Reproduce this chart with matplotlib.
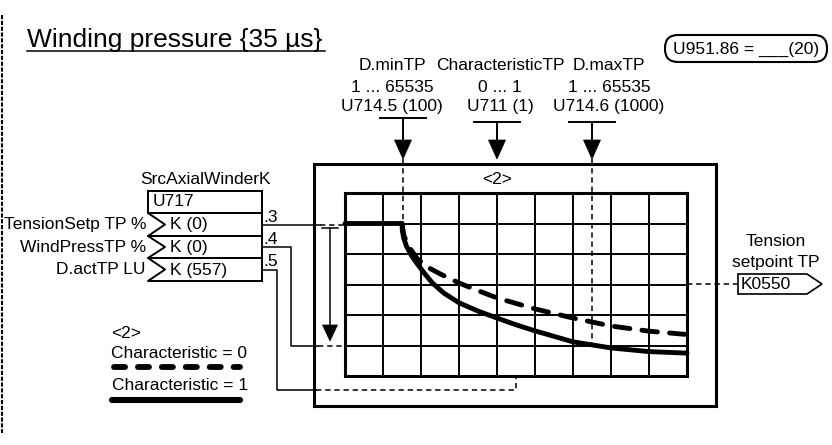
import matplotlib
matplotlib.use("Agg")
import matplotlib.pyplot as plt
from matplotlib.patches import Polygon, Rectangle, FancyBboxPatch

plt.rcParams['font.family'] = ['Liberation Sans', 'DejaVu Sans']

# curve data in grid units (9 x 6 cells)
char1_x = [0, 1.5, 1.51, 1.55, 1.62, 1.75, 1.9, 2.1, 2.3, 2.6, 3.0, 3.5, 4.0, 4.5, 5.0, 6.0, 7.0, 8.0, 9.0]
char1_y = [5.0, 5.0, 4.75, 4.5, 4.25, 3.95, 3.68, 3.35, 3.05, 2.72, 2.4, 2.13, 1.9, 1.68, 1.48, 1.12, 0.92, 0.8, 0.75]
char0_x = [1.5, 1.55, 1.7, 1.9, 2.2, 2.5, 3.0, 3.5, 4.0, 5.0, 6.0, 7.0, 8.0, 9.0]
char0_y = [5.0, 4.6, 4.2, 3.85, 3.55, 3.35, 3.05, 2.8, 2.56, 2.2, 1.9, 1.64, 1.47, 1.36]

# parameter labels above the block
param_names = ['D.minTP', 'CharacteristicTP', 'D.maxTP']
param_ranges = ['1 ... 65535', '0 ... 1', '1 ... 65535']
param_ids = ['U714.5 (100)', 'U711 (1)', 'U714.6 (1000)']
param_text_x = [392, 500, 609]
param_arrow_x = [403, 497, 592]

# connector inputs
in_labels = ['TensionSetp TP %', 'WindPressTP %', 'D.actTP LU']
in_values = ['K (0)', 'K (0)', 'K (557)']
in_pins = ['.3', '.4', '.5']

FS = 12.5
fig = plt.figure(figsize=(8.32, 4.45), dpi=100)
ax = fig.add_axes([0, 0, 1, 1])
ax.set_xlim(0, 832)
ax.set_ylim(445, 0)
ax.axis('off')

# left dashed border
ax.plot([2, 2], [15, 433], color='k', lw=1.5, ls=(0, (2, 0.8)))

# title
ax.text(27, 47, 'Winding pressure {35 µs}', fontsize=19, ha='left', va='baseline')
ax.plot([27, 325], [51, 51], color='k', lw=1.1)

# rounded box top right
ax.add_patch(FancyBboxPatch((665, 35), 162, 27, boxstyle='round,pad=0,rounding_size=13',
                            fc='white', ec='k', lw=1.5))
ax.text(746, 49, 'U951.86 = ___(20)', fontsize=FS, ha='center', va='center')

# parameter labels and arrows
for i in range(3):
    tx = param_text_x[i]
    ax.text(tx, 66, param_names[i], fontsize=FS, ha='center', va='center')
    ax.text(tx, 87, param_ranges[i], fontsize=FS, ha='center', va='center')
    ax.text(tx, 107, param_ids[i], fontsize=FS, ha='center', va='center')
    axx = param_arrow_x[i]
    by = 118 if i == 0 else 122
    ax.plot([axx - 23, axx + 23], [by, by], color='k', lw=1.4)
    ax.plot([axx, axx], [by, 142], color='k', lw=1.4)
    ax.add_patch(Polygon([(axx - 8.5, 140), (axx + 8.5, 140), (axx, 159)], closed=True, fc='k', ec='k', lw=0.5))

# outer box
ax.add_patch(Rectangle((314, 164), 402, 242, fill=False, ec='k', lw=2.2))
ax.text(497, 179, '<2>', fontsize=FS, ha='center', va='center')

# dashed drop lines from D.min and D.max
ax.plot([403, 403], [159, 224], color='k', lw=1.1, ls=(0, (3.5, 2.5)))
ax.plot([592, 592], [159, 343], color='k', lw=1.1, ls=(0, (3.5, 2.5)))

# connector block
ax.text(205, 180, 'SrcAxialWinderK', fontsize=FS, ha='center', va='center')
ax.add_patch(Rectangle((148, 191), 114, 22, fill=False, ec='k', lw=1.4))
ax.text(153, 202, 'U717', fontsize=FS, ha='left', va='center')
row_tops = [213, 236, 258]
row_bots = [236, 258, 281]
for i in range(3):
    t, b = row_tops[i], row_bots[i]
    m = (t + b) / 2
    ax.plot([262, 148, 165, 148, 262], [t, t, m, b, b], color='k', lw=1.4)
    ax.text(170, m + 0.5, in_values[i], fontsize=FS, ha='left', va='center')
    ax.text(146, m, in_labels[i], fontsize=FS, ha='right', va='center')
    ax.text(263, t + 4, in_pins[i], fontsize=FS, ha='left', va='center')
ax.plot([262, 262], [191, 281], color='k', lw=1.4)

# wires
ax.plot([262, 320], [225, 225], color='k', lw=1.1)
ax.plot([320, 345], [225, 225], color='k', lw=1.1, ls=(0, (3.5, 2.5)))
ax.plot([262, 291, 291, 318], [247, 247, 346, 346], color='k', lw=1.1)
ax.plot([318, 345], [346, 346], color='k', lw=1.1, ls=(0, (3.5, 2.5)))
ax.plot([262, 277, 277, 316], [270, 270, 390, 390], color='k', lw=1.1)
ax.plot([316, 516, 516], [390, 390, 376], color='k', lw=1.1, ls=(0, (3.5, 2.5)))

# vertical range arrow
ax.plot([322, 338], [228, 228], color='k', lw=1.1)
ax.plot([330, 330], [228, 327], color='k', lw=1.1)
ax.add_patch(Polygon([(322.5, 325), (337.5, 325), (330, 341)], closed=True, fc='k', ec='k', lw=0.5))

# output connector
ax.plot([687, 738], [284, 284], color='k', lw=1.1, ls=(0, (3.5, 2.5)))
ax.add_patch(Polygon([(738, 274), (807, 274), (822, 284), (807, 294), (738, 294)], closed=True,
                     fill=False, ec='k', lw=1.2))
ax.text(741, 284.5, 'K0550', fontsize=FS, ha='left', va='center')
ax.text(776, 241, 'Tension', fontsize=FS, ha='center', va='center')
ax.text(776, 262, 'setpoint TP', fontsize=FS, ha='center', va='center')

# legend
ax.text(111, 333, '<2>', fontsize=FS, ha='left', va='center')
ax.text(111, 353, 'Characteristic = 0', fontsize=FS, ha='left', va='center')
ax.plot([114, 240], [367, 367], color='k', lw=4.2, ls=(0, (1.9, 2.2)), dash_capstyle='round')
ax.text(112, 385, 'Characteristic = 1', fontsize=FS, ha='left', va='center')
ax.plot([112, 240], [400, 400], color='k', lw=4.4, solid_capstyle='round')

# characteristic grid
gx = fig.add_axes([345 / 832, (445 - 376) / 445, 342 / 832, 183 / 445])
gx.set_xlim(0, 9)
gx.set_ylim(0, 6)
gx.patch.set_alpha(0)
gx.set_xticks(range(10))
gx.set_yticks(range(7))
gx.tick_params(length=0, labelbottom=False, labelleft=False)
gx.grid(True, color='k', lw=1.4)
for s in gx.spines.values():
    s.set_linewidth(2.2)
gx.plot(char1_x, char1_y, color='k', lw=3.5, solid_capstyle='round', clip_on=False)
gx.plot(char0_x, char0_y, color='k', lw=3.5, ls=(0, (3.2, 2.5)), dash_capstyle='round', clip_on=False)

fig.savefig('out.png', dpi=100)
